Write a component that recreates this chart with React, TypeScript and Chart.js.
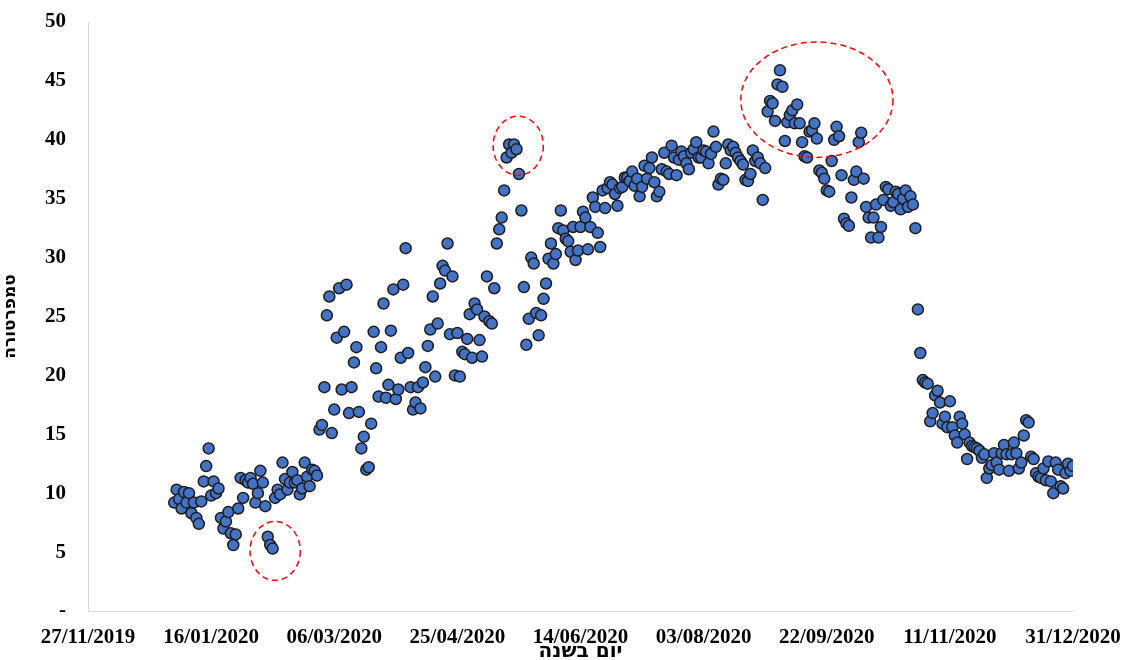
import { useEffect, useRef } from "react";
import { Chart, registerables } from "chart.js";

Chart.register(...registerables);

// Daily temperatures for 2020 (day 0 = 01/01/2020)
const jan = [9.2, 10.3, 9.5, 8.7, 10.1, 9.2, 10.0, 8.3, 9.2, 7.9, 7.4, 9.3, 11.0, 12.3, 13.8, 9.8, 11.0, 10.0, 10.4, 7.9, 7.0, 7.6, 8.4, 6.6, 5.6, 6.5, 8.7, 11.3, 9.6, 11.1, 10.9];
const feb = [11.3, 10.8, 9.2, 10.0, 11.9, 10.9, 8.9, 6.3, 5.6, 5.3, 9.6, 10.3, 9.9, 12.6, 11.2, 10.3, 10.9, 11.8, 10.9, 11.1, 9.9, 10.4, 12.6, 11.4, 10.6, 12.0, 11.9, 11.5, 15.4];
const mar = [15.8, 19.0, 25.1, 26.7, 15.1, 17.1, 23.2, 27.4, 18.8, 23.7, 27.7, 16.8, 19.0, 21.1, 22.4, 16.9, 13.8, 14.8, 12.0, 12.2, 15.9, 23.7, 20.6, 18.2, 22.4, 26.1, 18.1, 19.2, 23.8, 27.3, 18.0];
const apr = [18.8, 21.5, 27.7, 30.8, 21.9, 19.0, 17.1, 17.7, 19.0, 17.2, 19.4, 20.7, 22.5, 23.9, 26.7, 19.9, 24.4, 27.8, 29.3, 28.9, 31.2, 23.5, 28.4, 20.0, 23.6, 19.9, 22.0, 21.8, 23.1, 25.2];
const may = [21.5, 26.1, 25.6, 23.0, 21.6, 25.0, 28.4, 24.6, 24.4, 27.4, 31.2, 32.4, 33.4, 35.7, 38.5, 39.6, 38.9, 39.6, 39.2, 37.1, 34.0, 27.5, 22.6, 24.8, 30.0, 29.5, 25.3, 23.4, 25.1, 26.5, 27.8];
const jun = [29.9, 31.2, 29.5, 30.3, 32.5, 34.0, 32.3, 31.6, 31.4, 30.5, 32.6, 29.8, 30.6, 32.6, 33.9, 33.4, 30.7, 32.6, 35.1, 34.3, 32.1, 30.9, 35.7, 34.2, 35.9, 36.4, 36.2, 35.4, 34.4, 35.9];
const jul = [36.0, 36.8, 36.8, 36.5, 37.3, 36.1, 36.7, 35.2, 36.0, 37.8, 36.7, 37.6, 38.5, 36.4, 35.2, 35.6, 37.5, 38.9, 37.3, 37.1, 39.5, 38.5, 37.0, 38.3, 39.0, 38.6, 38.0, 37.5, 38.9, 39.2, 39.8];
const aug = [38.5, 38.5, 39.1, 39.0, 38.0, 38.8, 40.7, 39.4, 36.2, 36.7, 36.6, 38.0, 39.6, 39.1, 39.4, 38.9, 38.5, 38.2, 37.9, 36.6, 36.5, 37.1, 39.1, 38.2, 38.5, 38.0, 34.9, 37.6, 42.4, 43.3, 43.1];
const sep = [41.6, 44.7, 45.9, 44.5, 39.9, 41.5, 42.1, 42.5, 41.4, 43.0, 41.4, 39.8, 38.6, 38.5, 40.7, 40.8, 41.4, 40.1, 37.4, 37.2, 36.7, 35.7, 35.6, 38.2, 40.0, 41.1, 40.3, 37.0, 33.3, 32.9];
const oct = [32.7, 35.1, 36.6, 37.3, 39.8, 40.6, 36.7, 34.3, 33.4, 31.7, 33.4, 34.5, 31.7, 32.6, 34.9, 36.0, 35.8, 34.4, 34.7, 35.6, 35.4, 34.1, 35.0, 35.7, 34.3, 35.2, 34.5, 32.5, 25.6, 21.9, 19.6];
const nov = [19.4, 19.3, 16.1, 16.8, 18.3, 18.7, 17.7, 15.9, 16.5, 15.6, 17.8, 15.6, 14.9, 14.3, 16.5, 15.9, 15.0, 12.9, 14.3, 14.0, 13.9, 13.8, 13.6, 13.0, 13.3, 11.3, 12.1, 12.4, 13.4, 12.6];
const dec = [12.0, 13.4, 14.1, 13.3, 11.9, 13.3, 14.3, 13.4, 12.1, 12.6, 14.9, 16.2, 16.0, 13.1, 12.9, 11.7, 11.4, 11.3, 12.1, 11.1, 12.7, 11.0, 10.0, 12.6, 12.0, 10.6, 10.4, 11.7, 12.5, 11.9, 12.3];

const months = [jan, feb, mar, apr, may, jun, jul, aug, sep, oct, nov, dec];

// X axis ticks: days relative to 01/01/2020
const xTickValues = [-35, 15, 65, 115, 165, 215, 265, 315, 365];
const xTickLabels = ["27/11/2019", "16/01/2020", "06/03/2020", "25/04/2020", "14/06/2020", "03/08/2020", "22/09/2020", "11/11/2020", "31/12/2020"];
const yTickValues = [0, 5, 10, 15, 20, 25, 30, 35, 40, 45, 50];
const yTickLabels = ["-", "5", "10", "15", "20", "25", "30", "35", "40", "45", "50"];

const xTitle = "יום בשנה";
const yTitle = "טמפרטורה";

// Highlighted outliers (center in day/value units, radii in day/value units)
const highlightDays = [41, 139.7, 261];
const highlightValues = [5.1, 39.5, 43.4];
const highlightRadiusDays = [10.2, 10.2, 30.9];
const highlightRadiusValues = [2.5, 2.5, 4.9];

const FONT = "'Liberation Serif', 'Times New Roman', serif";
const TITLE_FONT = "'DejaVu Sans', sans-serif";

export default function App() {
  const canvasRef = useRef<HTMLCanvasElement | null>(null);

  useEffect(() => {
    const canvas = canvasRef.current;
    if (!canvas) return;
    const points = months.flat().map((v, i) => ({ x: i, y: v }));

    const ellipsePlugin = {
      id: "ellipses",
      afterDatasetsDraw(chart: any) {
        const { ctx, scales } = chart;
        const xs = scales.x;
        const ys = scales.y;
        ctx.save();
        ctx.strokeStyle = "#ff0000";
        ctx.lineWidth = 1.5;
        ctx.setLineDash([6, 4]);
        highlightDays.forEach((d, i) => {
          const cx = xs.getPixelForValue(d);
          const cy = ys.getPixelForValue(highlightValues[i]);
          const rx = Math.abs(xs.getPixelForValue(d + highlightRadiusDays[i]) - cx);
          const ry = Math.abs(ys.getPixelForValue(highlightValues[i] + highlightRadiusValues[i]) - cy);
          ctx.beginPath();
          ctx.ellipse(cx, cy, rx, ry, 0, 0, Math.PI * 2);
          ctx.stroke();
        });
        ctx.restore();
      },
    };

    const chart = new Chart(canvas, {
      type: "scatter",
      data: {
        datasets: [
          {
            data: points,
            backgroundColor: "#4472C4",
            borderColor: "#1c1c1c",
            borderWidth: 1.5,
            pointRadius: 5.5,
            pointHoverRadius: 5.5,
          },
        ],
      },
      options: {
        animation: false,
        responsive: true,
        maintainAspectRatio: false,
        layout: { padding: { left: 0, right: 48, top: 22, bottom: 0 } },
        plugins: {
          legend: { display: false },
          tooltip: { enabled: false },
        },
        scales: {
          x: {
            type: "linear",
            min: -35,
            max: 365,
            afterBuildTicks: (scale: any) => {
              scale.ticks = xTickValues.map((v) => ({ value: v }));
            },
            afterFit: (scale: any) => {
              scale.height = 49;
              scale.paddingLeft = 0;
              scale.paddingRight = 0;
              scale.paddingTop = 0;
              scale.paddingBottom = 0;
            },
            grid: { display: false, drawTicks: false },
            border: { display: true, color: "#d9d9d9", width: 1 },
            ticks: {
              color: "#000",
              padding: 14,
              maxRotation: 0,
              autoSkip: false,
              font: { family: FONT, size: 21, weight: "bold" },
              callback: (v: any) => {
                const i = xTickValues.indexOf(Number(v));
                return i >= 0 ? xTickLabels[i] : "";
              },
            },
            title: {
              display: true,
              text: xTitle,
              color: "#000",
              font: { family: TITLE_FONT, size: 20, weight: "bold" },
              padding: { top: 0, bottom: -4 },
            },
          },
          y: {
            min: 0,
            max: 50,
            afterBuildTicks: (scale: any) => {
              scale.ticks = yTickValues.map((v) => ({ value: v }));
            },
            afterFit: (scale: any) => {
              scale.width = 88;
              scale.paddingLeft = 0;
              scale.paddingRight = 0;
              scale.paddingTop = 0;
              scale.paddingBottom = 0;
            },
            grid: { display: false, drawTicks: false },
            border: { display: true, color: "#d9d9d9", width: 1 },
            ticks: {
              color: "#000",
              padding: 22,
              font: { family: FONT, size: 21, weight: "bold" },
              callback: (v: any) => {
                const i = yTickValues.indexOf(Number(v));
                return i >= 0 ? yTickLabels[i] : "";
              },
            },
            title: {
              display: true,
              text: yTitle,
              color: "#000",
              font: { family: TITLE_FONT, size: 17, weight: "bold" },
              padding: { top: 0, bottom: 0 },
            },
          },
        },
      },
      plugins: [ellipsePlugin],
    });

    return () => chart.destroy();
  }, []);

  return (
    <div style={{ position: "fixed", left: 0, top: 0, width: 1121, height: 660, background: "#fff" }}>
      <canvas ref={canvasRef} />
    </div>
  );
}
